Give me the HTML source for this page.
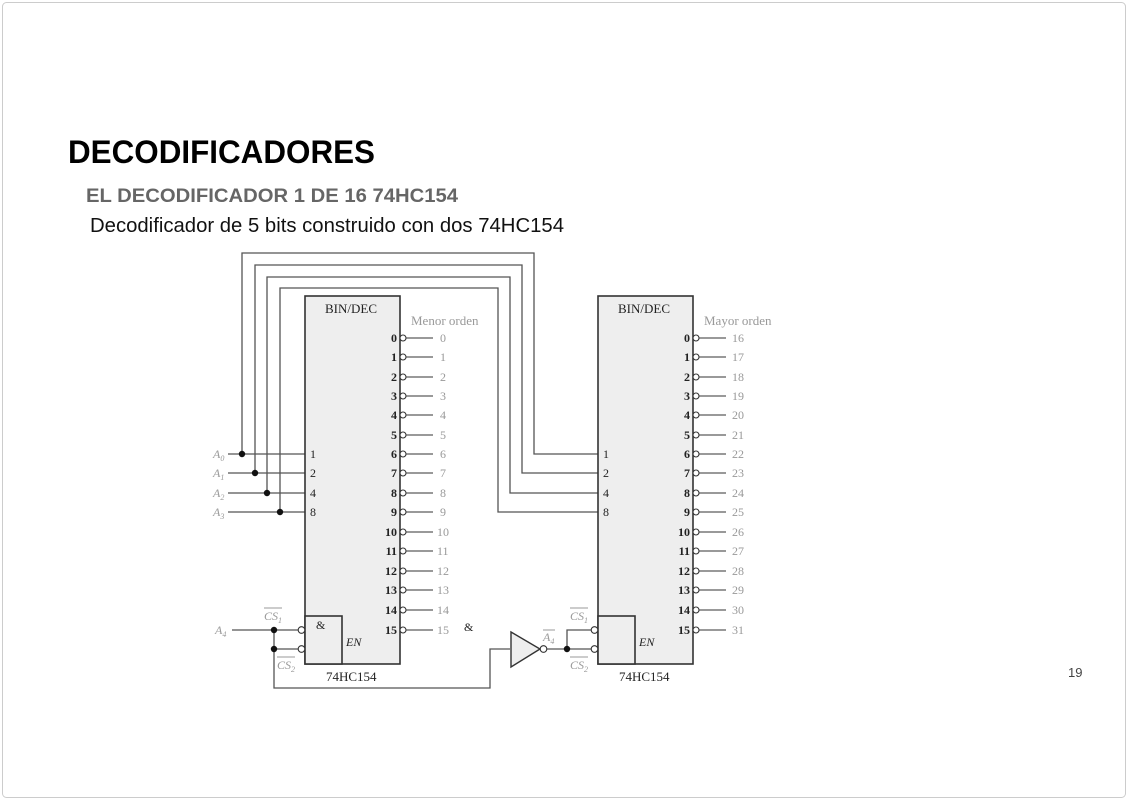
<!DOCTYPE html>
<html><head><meta charset="utf-8"><style>
body{margin:0;background:#fff;}
svg{display:block}
.t{font-family:"Liberation Serif",serif;font-size:12px;fill:#222}
.g{font-family:"Liberation Serif",serif;font-size:12px;fill:#999}
</style></head><body>
<svg width="1128" height="800" viewBox="0 0 1128 800" xmlns="http://www.w3.org/2000/svg">
<rect x="2.5" y="2.5" width="1123" height="795" rx="4" fill="#fff" stroke="#ccc"/>
<text x="68" y="163" font-family="Liberation Sans,sans-serif" font-weight="bold" font-size="32" fill="#000" textLength="307" lengthAdjust="spacingAndGlyphs">DECODIFICADORES</text>
<text x="86" y="202" font-family="Liberation Sans,sans-serif" font-weight="bold" font-size="19" fill="#666" textLength="372" lengthAdjust="spacingAndGlyphs">EL DECODIFICADOR 1 DE 16 74HC154</text>
<text x="90" y="232" font-family="Liberation Sans,sans-serif" font-size="20" fill="#111" textLength="474" lengthAdjust="spacingAndGlyphs">Decodificador de 5 bits construido con dos 74HC154</text>
<text x="1068" y="677" font-family="Liberation Sans,sans-serif" font-size="13" fill="#444">19</text>

<g fill="none" stroke="#555" stroke-width="1.3">
<polyline points="242,454 242,253 534,253 534,454 598,454"/>
<polyline points="255,473 255,265 522,265 522,473 598,473"/>
<polyline points="267,493 267,277 510,277 510,493 598,493"/>
<polyline points="280,512 280,288 498,288 498,512 598,512"/>
<line x1="228" y1="454" x2="305" y2="454"/>
<line x1="228" y1="473" x2="305" y2="473"/>
<line x1="228" y1="493" x2="305" y2="493"/>
<line x1="228" y1="512" x2="305" y2="512"/>
<line x1="232" y1="630" x2="298" y2="630"/>
<line x1="274" y1="649" x2="298" y2="649"/>
<polyline points="274,630 274,688 490,688 490,649 510,649"/>
<line x1="547" y1="649" x2="591" y2="649"/>
<polyline points="567,649 567,630 591,630"/>
</g>
<g fill="#111">
<circle cx="242" cy="454" r="3.2"/><circle cx="255" cy="473" r="3.2"/><circle cx="267" cy="493" r="3.2"/><circle cx="280" cy="512" r="3.2"/>
<circle cx="274" cy="630" r="3.2"/><circle cx="274" cy="649" r="3.2"/><circle cx="567" cy="649" r="3.2"/>
</g>
<g fill="#eee" stroke="#333" stroke-width="1.6">
<rect x="305" y="296" width="95" height="368"/>
<rect x="598" y="296" width="95" height="368"/>
<rect x="305" y="616" width="37" height="48"/>
<rect x="598" y="616" width="37" height="48"/>
</g>
<polygon points="511,632 511,667 540,649" fill="#eee" stroke="#333" stroke-width="1.4"/>
<g fill="#fff" stroke="#333" stroke-width="1.1">
<circle cx="543.5" cy="649" r="3.3"/>
<circle cx="301.5" cy="630" r="3.3"/><circle cx="301.5" cy="649" r="3.3"/>
<circle cx="594.5" cy="630" r="3.3"/><circle cx="594.5" cy="649" r="3.3"/>
</g>
<g class="t">
<text x="325" y="313" font-size="13">BIN/DEC</text><text x="618" y="313" font-size="13">BIN/DEC</text>
<text x="310" y="458">1</text><text x="310" y="477">2</text><text x="310" y="497">4</text><text x="310" y="516">8</text>
<text x="603" y="458">1</text><text x="603" y="477">2</text><text x="603" y="497">4</text><text x="603" y="516">8</text>
<text x="316" y="629">&amp;</text><text x="464" y="631">&amp;</text>
<text x="346" y="646" font-style="italic">EN</text><text x="639" y="646" font-style="italic">EN</text>
<text x="326" y="681" font-size="13">74HC154</text><text x="619" y="681" font-size="13">74HC154</text>
</g>
<g class="g">
<text x="411" y="325" font-size="13">Menor orden</text><text x="704" y="325" font-size="13">Mayor orden</text>
<g font-style="italic">
<text x="213" y="458">A<tspan font-size="8" dy="3">0</tspan></text>
<text x="213" y="477">A<tspan font-size="8" dy="3">1</tspan></text>
<text x="213" y="497">A<tspan font-size="8" dy="3">2</tspan></text>
<text x="213" y="516">A<tspan font-size="8" dy="3">3</tspan></text>
<text x="215" y="634">A<tspan font-size="8" dy="3">4</tspan></text>
<text x="264" y="620">CS<tspan font-size="8" dy="3">1</tspan></text>
<text x="277" y="669">CS<tspan font-size="8" dy="3">2</tspan></text>
<text x="570" y="620">CS<tspan font-size="8" dy="3">1</tspan></text>
<text x="570" y="669">CS<tspan font-size="8" dy="3">2</tspan></text>
<text x="543" y="641">A<tspan font-size="8" dy="3">4</tspan></text>
</g>
</g>
<g stroke="#999" stroke-width="1">
<line x1="264" y1="608" x2="282" y2="608"/><line x1="277" y1="657" x2="295" y2="657"/>
<line x1="570" y1="608" x2="588" y2="608"/><line x1="570" y1="657" x2="588" y2="657"/>
<line x1="543" y1="630" x2="555" y2="630"/>
</g>
<g stroke="#333" stroke-width="1.1">
<line x1="405" y1="338" x2="433" y2="338"/><line x1="405" y1="357" x2="433" y2="357"/><line x1="405" y1="377" x2="433" y2="377"/><line x1="405" y1="396" x2="433" y2="396"/>
<line x1="405" y1="415" x2="433" y2="415"/><line x1="405" y1="435" x2="433" y2="435"/><line x1="405" y1="454" x2="433" y2="454"/><line x1="405" y1="473" x2="433" y2="473"/>
<line x1="405" y1="493" x2="433" y2="493"/><line x1="405" y1="512" x2="433" y2="512"/><line x1="405" y1="532" x2="433" y2="532"/><line x1="405" y1="551" x2="433" y2="551"/>
<line x1="405" y1="571" x2="433" y2="571"/><line x1="405" y1="590" x2="433" y2="590"/><line x1="405" y1="610" x2="433" y2="610"/><line x1="405" y1="630" x2="433" y2="630"/>
<line x1="698" y1="338" x2="726" y2="338"/><line x1="698" y1="357" x2="726" y2="357"/><line x1="698" y1="377" x2="726" y2="377"/><line x1="698" y1="396" x2="726" y2="396"/>
<line x1="698" y1="415" x2="726" y2="415"/><line x1="698" y1="435" x2="726" y2="435"/><line x1="698" y1="454" x2="726" y2="454"/><line x1="698" y1="473" x2="726" y2="473"/>
<line x1="698" y1="493" x2="726" y2="493"/><line x1="698" y1="512" x2="726" y2="512"/><line x1="698" y1="532" x2="726" y2="532"/><line x1="698" y1="551" x2="726" y2="551"/>
<line x1="698" y1="571" x2="726" y2="571"/><line x1="698" y1="590" x2="726" y2="590"/><line x1="698" y1="610" x2="726" y2="610"/><line x1="698" y1="630" x2="726" y2="630"/>
</g>
<g fill="#fff" stroke="#333" stroke-width="1.1">
<circle cx="403" cy="338" r="3"/><circle cx="403" cy="357" r="3"/><circle cx="403" cy="377" r="3"/><circle cx="403" cy="396" r="3"/>
<circle cx="403" cy="415" r="3"/><circle cx="403" cy="435" r="3"/><circle cx="403" cy="454" r="3"/><circle cx="403" cy="473" r="3"/>
<circle cx="403" cy="493" r="3"/><circle cx="403" cy="512" r="3"/><circle cx="403" cy="532" r="3"/><circle cx="403" cy="551" r="3"/>
<circle cx="403" cy="571" r="3"/><circle cx="403" cy="590" r="3"/><circle cx="403" cy="610" r="3"/><circle cx="403" cy="630" r="3"/>
<circle cx="696" cy="338" r="3"/><circle cx="696" cy="357" r="3"/><circle cx="696" cy="377" r="3"/><circle cx="696" cy="396" r="3"/>
<circle cx="696" cy="415" r="3"/><circle cx="696" cy="435" r="3"/><circle cx="696" cy="454" r="3"/><circle cx="696" cy="473" r="3"/>
<circle cx="696" cy="493" r="3"/><circle cx="696" cy="512" r="3"/><circle cx="696" cy="532" r="3"/><circle cx="696" cy="551" r="3"/>
<circle cx="696" cy="571" r="3"/><circle cx="696" cy="590" r="3"/><circle cx="696" cy="610" r="3"/><circle cx="696" cy="630" r="3"/>
</g>
<g class="t" text-anchor="end" font-weight="bold">
<text x="397" y="342">0</text><text x="397" y="361">1</text><text x="397" y="381">2</text><text x="397" y="400">3</text>
<text x="397" y="419">4</text><text x="397" y="439">5</text><text x="397" y="458">6</text><text x="397" y="477">7</text>
<text x="397" y="497">8</text><text x="397" y="516">9</text><text x="397" y="536">10</text><text x="397" y="555">11</text>
<text x="397" y="575">12</text><text x="397" y="594">13</text><text x="397" y="614">14</text><text x="397" y="634">15</text>
<text x="690" y="342">0</text><text x="690" y="361">1</text><text x="690" y="381">2</text><text x="690" y="400">3</text>
<text x="690" y="419">4</text><text x="690" y="439">5</text><text x="690" y="458">6</text><text x="690" y="477">7</text>
<text x="690" y="497">8</text><text x="690" y="516">9</text><text x="690" y="536">10</text><text x="690" y="555">11</text>
<text x="690" y="575">12</text><text x="690" y="594">13</text><text x="690" y="614">14</text><text x="690" y="634">15</text>
</g>
<g class="g">
<text x="440" y="342">0</text><text x="440" y="361">1</text><text x="440" y="381">2</text><text x="440" y="400">3</text>
<text x="440" y="419">4</text><text x="440" y="439">5</text><text x="440" y="458">6</text><text x="440" y="477">7</text>
<text x="440" y="497">8</text><text x="440" y="516">9</text><text x="437" y="536">10</text><text x="437" y="555">11</text>
<text x="437" y="575">12</text><text x="437" y="594">13</text><text x="437" y="614">14</text><text x="437" y="634">15</text>
<text x="732" y="342">16</text><text x="732" y="361">17</text><text x="732" y="381">18</text><text x="732" y="400">19</text>
<text x="732" y="419">20</text><text x="732" y="439">21</text><text x="732" y="458">22</text><text x="732" y="477">23</text>
<text x="732" y="497">24</text><text x="732" y="516">25</text><text x="732" y="536">26</text><text x="732" y="555">27</text>
<text x="732" y="575">28</text><text x="732" y="594">29</text><text x="732" y="614">30</text><text x="732" y="634">31</text>
</g>
</svg>
</body></html>
